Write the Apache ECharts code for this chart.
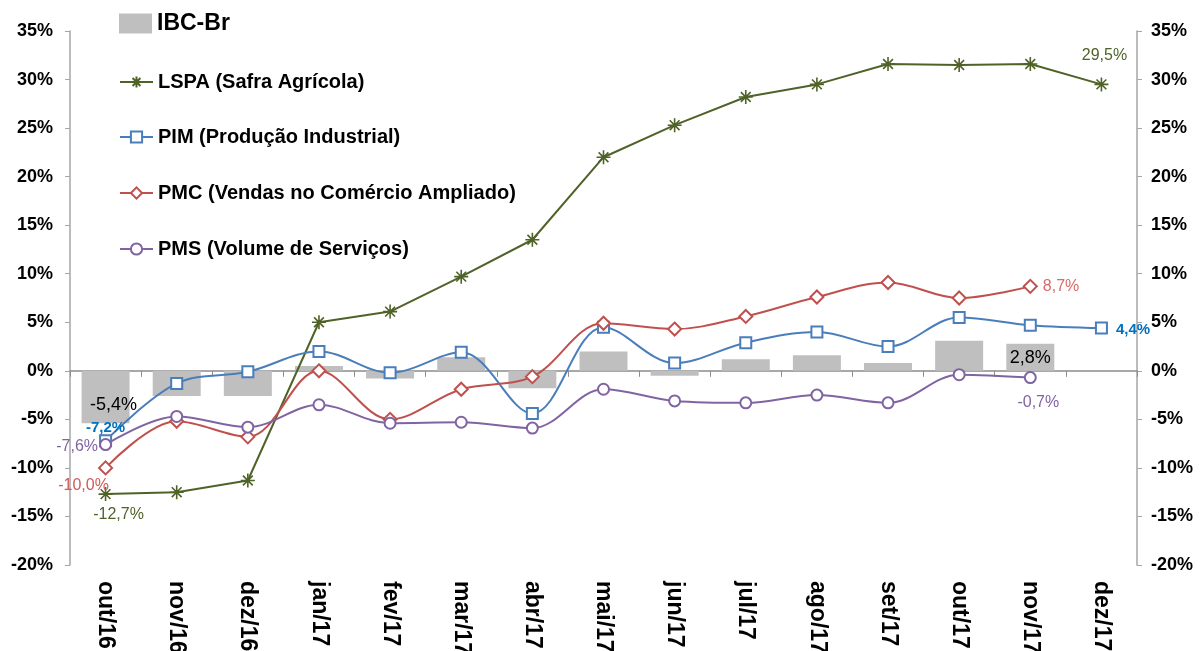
<!DOCTYPE html>
<html>
<head>
<meta charset="utf-8">
<script src="https://cdn.jsdelivr.net/npm/echarts@6/dist/echarts.min.js"></script>
<style>
  html, body { margin: 0; padding: 0; background: #fff; }
  #chart { width: 1200px; height: 651px; }
</style>
</head>
<body>
<div id="chart"></div>
<script>
// categorias (meses)
const months = ['out/16', 'nov/16', 'dez/16', 'jan/17', 'fev/17', 'mar/17', 'abr/17', 'mai/17',
  'jun/17', 'jul/17', 'ago/17', 'set/17', 'out/17', 'nov/17', 'dez/17']

// variação acumulada em 12 meses (%)
const ibcBr = [-5.4, -2.6, -2.6, 0.5, -0.8, 1.4, -1.8, 2.0, -0.5, 1.2, 1.6, 0.8, 3.1, 2.8, null]
const lspa = [-12.7, -12.5, -11.3, 5.0, 6.1, 9.7, 13.5, 22.0, 25.3, 28.2, 29.5, 31.6, 31.5, 31.6, 29.5]
const pim = [-7.2, -1.3, -0.1, 2.0, -0.2, 1.9, -4.4, 4.5, 0.8, 2.9, 4.0, 2.5, 5.5, 4.7, 4.4]
const pmc = [-10.0, -5.2, -6.8, 0.0, -5.0, -1.9, -0.6, 4.9, 4.3, 5.6, 7.6, 9.1, 7.5, 8.7, null]
const pms = [-7.6, -4.7, -5.8, -3.5, -5.4, -5.3, -5.9, -1.9, -3.1, -3.3, -2.5, -3.3, -0.4, -0.7, null]

// eixo y (%)
const yMin = -20
const yMax = 35
const yStep = 5

const FONT = '"Liberation Sans", Arial, sans-serif'
const C_IBC = '#bfbfbf'
const C_LSPA = '#4f6228'
const C_PIM = '#4a7ebb'
const C_PMC = '#c0504d'
const C_PMS = '#8064a2'

function fmtPct(v) {
  return v.toFixed(1).replace('.', ',') + '%'
}

// coloca rótulo só nos pontos indicados: { índice: estilo do rótulo }
function withLabels(values, labels) {
  return values.map((v, i) => {
    if (labels[i] && v != null) {
      return { value: v, label: Object.assign({ show: true, fontFamily: FONT, formatter: p => fmtPct(p.value) }, labels[i]) }
    }
    return v
  })
}

const starPath = 'path://M5,0L5,10M0,5L10,5M1.5,1.5L8.5,8.5M1.5,8.5L8.5,1.5'

function lineSeries(name, data, color, symbol, smooth) {
  return {
    name, type: 'line', data,
    smooth: smooth ? 0.35 : false,
    symbol, symbolSize: 11, symbolKeepAspect: true,
    showAllSymbol: true,
    connectNulls: false,
    lineStyle: { color, width: 2 },
    itemStyle: { color, borderColor: color, borderWidth: 1.6 },
    z: 3
  }
}

const chart = echarts.init(document.getElementById('chart'))

const legendBase = {
  orient: 'vertical', left: 114,
  itemWidth: 33, itemHeight: 14, itemGap: 5,
  textStyle: { fontFamily: FONT, fontWeight: 'bold', fontSize: 20, color: '#000' },
  selectedMode: false
}

chart.setOption({
  animation: false,
  backgroundColor: '#fff',
  grid: { left: 70, right: 63, top: 31, bottom: 86, containLabel: false, outerBoundsMode: 'none' },
  legend: [
    Object.assign({}, legendBase, {
      top: 7, data: [{ name: 'IBC-Br', icon: 'rect' }], itemHeight: 20,
      textStyle: { fontFamily: FONT, fontWeight: 'bold', fontSize: 23, color: '#000' }
    }),
    Object.assign({}, legendBase, { top: 67, data: ['LSPA (Safra Agrícola)'] }),
    Object.assign({}, legendBase, { top: 122, data: ['PIM (Produção Industrial)'] }),
    Object.assign({}, legendBase, { top: 178, data: ['PMC (Vendas no Comércio Ampliado)'] }),
    Object.assign({}, legendBase, { top: 234, data: ['PMS (Volume de Serviços)'] })
  ],
  xAxis: [
    {
      type: 'category', data: months, position: 'bottom',
      axisLine: { show: false, onZero: false },
      axisTick: { show: false },
      axisLabel: {
        rotate: -90, margin: 16, interval: 0,
        fontFamily: FONT, fontWeight: 'bold', fontSize: 23, color: '#000'
      }
    },
    {
      type: 'category', data: months, position: 'bottom',
      axisLine: { show: true, onZero: true, onZeroAxisIndex: 0, lineStyle: { color: '#8c8c8c', width: 1.5 } },
      axisTick: { show: true, length: 6, lineStyle: { color: '#8c8c8c' } },
      axisLabel: { show: false }
    }
  ],
  yAxis: [
    {
      type: 'value', min: yMin, max: yMax, interval: yStep, position: 'left',
      axisLine: { show: true, lineStyle: { color: '#a6a6a6', width: 1.5 } },
      axisTick: { show: true, length: 5, lineStyle: { color: '#a6a6a6' } },
      splitLine: { show: false },
      axisLabel: {
        margin: 17, fontFamily: FONT, fontWeight: 'bold', fontSize: 18, color: '#000',
        formatter: v => v + '%'
      }
    },
    {
      type: 'value', min: yMin, max: yMax, interval: yStep, position: 'right',
      axisLine: { show: true, lineStyle: { color: '#a6a6a6', width: 1.5 } },
      axisTick: { show: true, length: 5, lineStyle: { color: '#a6a6a6' } },
      splitLine: { show: false },
      axisLabel: {
        margin: 14, fontFamily: FONT, fontWeight: 'bold', fontSize: 18, color: '#000',
        formatter: v => v + '%'
      }
    }
  ],
  series: [
    {
      name: 'IBC-Br', type: 'bar', barWidth: 48,
      data: withLabels(ibcBr, {
        0: { position: 'inside', offset: [8, 8], fontSize: 18, color: '#000' },
        13: { position: 'inside', offset: [0, 1], fontSize: 18, color: '#000' }
      }),
      itemStyle: { color: C_IBC },
      z: 1
    },
    Object.assign(lineSeries('LSPA (Safra Agrícola)', withLabels(lspa, {
      0: { position: 'bottom', offset: [13, 0], fontSize: 16, color: C_LSPA },
      14: { position: 'top', offset: [3, -8], fontSize: 16, color: C_LSPA }
    }), C_LSPA, starPath, false), { symbolSize: 14 }),
    lineSeries('PIM (Produção Industrial)', withLabels(pim, {
      0: { position: 'top', offset: [0, 6], fontSize: 15, fontWeight: 'bold', color: '#0070c0' },
      14: { position: 'right', offset: [3, 2], fontSize: 15, fontWeight: 'bold', color: '#0070c0' }
    }), C_PIM, 'emptyRect', true),
    Object.assign(lineSeries('PMC (Vendas no Comércio Ampliado)', withLabels(pmc, {
      0: { position: 'bottom', offset: [-22, -3], fontSize: 16, color: '#d05a57' },
      13: { position: 'right', offset: [0, 0], fontSize: 16, color: '#d86a67' }
    }), C_PMC, 'emptyDiamond', true), { symbolSize: 13 }),
    lineSeries('PMS (Volume de Serviços)', withLabels(pms, {
      0: { position: 'left', offset: [4, 2], fontSize: 16, color: C_PMS },
      13: { position: 'bottom', offset: [8, 5], fontSize: 16, color: C_PMS }
    }), C_PMS, 'emptyCircle', true)
  ]
})
</script>
</body>
</html>
